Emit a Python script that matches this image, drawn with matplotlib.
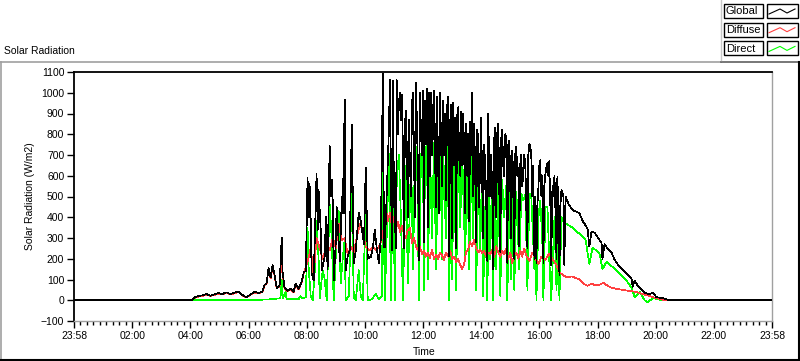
import numpy as np
import matplotlib
matplotlib.use('Agg')
import matplotlib.pyplot as plt
from matplotlib.lines import Line2D
from matplotlib.patches import Rectangle

# time in hours since the axis start (23:58), radiation in W/m2
global_pts = [
    (0, 0), (4.03, 0), (4.17, 15), (4.28, 20), (4.45, 25), (4.55, 30), (4.69, 22), (4.83, 28),
    (4.97, 35), (5.10, 30), (5.24, 38), (5.38, 30), (5.52, 36), (5.66, 42), (5.79, 25), (5.93, 15),
    (6.07, 28), (6.21, 40), (6.34, 35), (6.48, 42), (6.55, 75), (6.62, 80), (6.69, 155), (6.76, 110),
    (6.83, 170), (6.90, 120), (6.97, 60), (7.07, 70), (7.14, 300), (7.17, 140), (7.24, 60), (7.34, 45),
    (7.45, 55), (7.55, 40), (7.62, 80), (7.72, 55), (7.83, 90), (7.90, 135), (7.97, 140), (8.03, 590),
    (8.07, 400), (8.10, 560), (8.14, 380), (8.17, 130), (8.24, 95), (8.34, 610), (8.38, 340), (8.41, 530),
    (8.48, 350), (8.52, 145), (8.62, 210), (8.66, 400), (8.72, 150), (8.79, 745), (8.83, 500), (8.86, 580),
    (8.90, 470), (8.93, 95), (9.00, 275), (9.03, 450), (9.14, 190), (9.21, 500), (9.24, 420), (9.31, 965),
    (9.34, 145), (9.41, 210), (9.48, 240), (9.55, 845), (9.62, 180), (9.69, 240), (9.79, 420), (9.86, 380),
    (9.90, 340), (9.97, 270), (10.03, 640), (10.10, 200), (10.21, 210), (10.28, 255), (10.34, 340),
    (10.41, 250), (10.48, 180), (10.55, 300), (10.62, 1090), (10.66, 255), (10.69, 255), (10.76, 545),
    (10.83, 835), (10.86, 1060), (10.93, 240), (10.97, 1060), (11.00, 500), (11.07, 253), (11.10, 1060),
    (11.14, 800), (11.17, 950), (11.21, 1000), (11.24, 870), (11.28, 990), (11.31, 700), (11.34, 250),
    (11.38, 850), (11.41, 915), (11.45, 700), (11.48, 400), (11.52, 870), (11.55, 650), (11.59, 500),
    (11.62, 950), (11.66, 1000), (11.69, 700), (11.72, 400), (11.76, 1050), (11.79, 850), (11.83, 600),
    (11.86, 195), (11.88, 900), (11.90, 1000), (11.93, 800), (11.97, 700), (12.00, 1010), (12.02, 600),
    (12.03, 280), (12.05, 900), (12.07, 960), (12.10, 750), (12.14, 1020), (12.15, 800), (12.17, 350),
    (12.19, 950), (12.21, 1000), (12.24, 600), (12.26, 950), (12.28, 1000), (12.31, 700), (12.34, 800),
    (12.36, 980), (12.38, 1010), (12.41, 700), (12.45, 450), (12.46, 900), (12.48, 980), (12.52, 650),
    (12.55, 420), (12.57, 950), (12.59, 1000), (12.62, 750), (12.66, 550), (12.67, 920), (12.69, 960),
    (12.72, 700), (12.76, 900), (12.79, 480), (12.83, 930), (12.86, 980), (12.88, 600), (12.90, 210),
    (12.93, 850), (12.97, 940), (13.00, 300), (13.02, 900), (13.03, 950), (13.07, 650), (13.10, 880),
    (13.14, 250), (13.17, 880), (13.21, 930), (13.24, 700), (13.28, 600), (13.31, 910), (13.34, 650),
    (13.38, 900), (13.41, 750), (13.45, 420), (13.48, 850), (13.52, 600), (13.55, 800), (13.59, 380),
    (13.62, 860), (13.66, 700), (13.69, 1000), (13.72, 500), (13.76, 850), (13.79, 650), (13.83, 280),
    (13.86, 820), (13.90, 790), (13.93, 450), (13.97, 700), (14.00, 880), (14.03, 600), (14.07, 300),
    (14.10, 750), (14.14, 650), (14.17, 500), (14.21, 190), (14.24, 900), (14.28, 650), (14.31, 500),
    (14.34, 700), (14.38, 550), (14.41, 150), (14.45, 780), (14.48, 830), (14.52, 400), (14.55, 800),
    (14.59, 850), (14.62, 550), (14.66, 230), (14.69, 780), (14.72, 820), (14.76, 650), (14.79, 600),
    (14.83, 800), (14.86, 790), (14.90, 180), (14.93, 750), (14.97, 770), (15.00, 550), (15.03, 300),
    (15.07, 720), (15.10, 600), (15.14, 200), (15.17, 700), (15.21, 740), (15.24, 600), (15.28, 640),
    (15.31, 260), (15.34, 650), (15.38, 700), (15.41, 550), (15.45, 600), (15.48, 700), (15.52, 650),
    (15.55, 450), (15.59, 250), (15.62, 700), (15.66, 755), (15.69, 740), (15.72, 710), (15.76, 500),
    (15.79, 650), (15.83, 200), (15.86, 500), (15.90, 180), (15.93, 450), (15.97, 550), (16.00, 650),
    (16.03, 675), (16.07, 500), (16.10, 600), (16.14, 180), (16.17, 550), (16.21, 610), (16.24, 640),
    (16.28, 660), (16.31, 600), (16.34, 670), (16.38, 450), (16.41, 170), (16.45, 550), (16.48, 500),
    (16.52, 600), (16.55, 450), (16.59, 200), (16.62, 595), (16.66, 400), (16.69, 120), (16.72, 450),
    (16.76, 530), (16.83, 500), (16.86, 170), (16.90, 500), (17.00, 465), (17.14, 435),
    (17.38, 420), (17.48, 385), (17.66, 345), (17.72, 260), (17.79, 330), (17.90, 325), (18.00, 305),
    (18.14, 275), (18.17, 200), (18.24, 270), (18.34, 250), (18.48, 230), (18.59, 195), (18.76, 160),
    (19.00, 130), (19.17, 105), (19.21, 65), (19.28, 95), (19.38, 70), (19.52, 50), (19.62, 35),
    (19.79, 30), (19.90, 35), (20.03, 15), (20.24, 10), (20.48, 0), (24, 0),
]

diffuse_pts = [
    (0, 0), (4.03, 0), (4.17, 12), (4.28, 18), (4.45, 22), (4.55, 28), (4.69, 20), (4.83, 26),
    (4.97, 32), (5.10, 28), (5.24, 35), (5.38, 28), (5.52, 34), (5.66, 40), (5.79, 22), (5.93, 14),
    (6.07, 26), (6.21, 38), (6.34, 33), (6.48, 40), (6.55, 70), (6.62, 78), (6.69, 150), (6.76, 105),
    (6.83, 160), (6.90, 115), (6.97, 58), (7.07, 68), (7.14, 200), (7.17, 130), (7.24, 55), (7.34, 42),
    (7.45, 52), (7.55, 38), (7.62, 75), (7.72, 52), (7.83, 85), (7.90, 130), (8.03, 185), (8.14, 250),
    (8.24, 120), (8.34, 300), (8.45, 250), (8.55, 200), (8.69, 260), (8.79, 240), (8.90, 300), (9.00, 250),
    (9.10, 370), (9.21, 290), (9.31, 300), (9.41, 220), (9.52, 260), (9.62, 230), (9.72, 300), (9.83, 370),
    (9.93, 330), (10.03, 260), (10.14, 240), (10.28, 255), (10.41, 240), (10.55, 280), (10.66, 350),
    (10.72, 450), (10.79, 380), (10.86, 420), (10.93, 360), (11.00, 400), (11.07, 340), (11.14, 380),
    (11.21, 330), (11.28, 360), (11.34, 320), (11.41, 300), (11.48, 340), (11.55, 350), (11.62, 275),
    (11.69, 300), (11.76, 260), (11.83, 240), (11.90, 255), (11.97, 220), (12.03, 240), (12.10, 210),
    (12.17, 230), (12.24, 205), (12.31, 245), (12.38, 200), (12.45, 220), (12.52, 200), (12.59, 230),
    (12.66, 215), (12.72, 195), (12.79, 230), (12.86, 210), (12.93, 240), (13.00, 200), (13.07, 210),
    (13.14, 185), (13.21, 200), (13.28, 170), (13.34, 150), (13.41, 170), (13.48, 230), (13.55, 245),
    (13.62, 280), (13.69, 260), (13.76, 290), (13.83, 250), (13.90, 230), (13.97, 245), (14.03, 225),
    (14.10, 240), (14.17, 210), (14.24, 230), (14.31, 220), (14.38, 245), (14.45, 210), (14.52, 260),
    (14.59, 230), (14.66, 210), (14.72, 240), (14.79, 220), (14.86, 250), (14.93, 200), (15.00, 230),
    (15.07, 180), (15.14, 220), (15.21, 230), (15.28, 200), (15.34, 240), (15.41, 210), (15.48, 250),
    (15.55, 215), (15.66, 190), (15.76, 230), (15.86, 200), (15.97, 175), (16.07, 210), (16.21, 195),
    (16.34, 225), (16.45, 200), (16.59, 170), (16.69, 135), (16.83, 120), (16.97, 110), (17.10, 115),
    (17.24, 108), (17.38, 100), (17.52, 80), (17.66, 70), (17.79, 80), (17.93, 72), (18.07, 75),
    (18.21, 85), (18.34, 70), (18.48, 60), (18.66, 55), (18.86, 50), (19.10, 45), (19.34, 40),
    (19.55, 30), (19.79, 20), (20.03, 10), (20.31, 0), (24, 0),
]

direct_pts = [
    (0, 0), (6.34, 0), (6.48, 3), (6.83, 5), (7.10, 10), (7.14, 100), (7.17, 10), (7.28, 40), (7.31, 5),
    (7.72, 5), (7.79, 20), (7.86, 10), (7.97, 15), (8.00, 180), (8.03, 350), (8.07, 150), (8.14, 20),
    (8.21, 0), (8.28, 145), (8.34, 385), (8.41, 200), (8.45, 10), (8.55, 145), (8.62, 100), (8.69, 0),
    (8.79, 465), (8.86, 300), (8.93, 0), (9.03, 300), (9.10, 430), (9.17, 80), (9.24, 200), (9.31, 300),
    (9.34, 0), (9.45, 20), (9.55, 520), (9.62, 10), (9.69, 0), (9.79, 145), (9.86, 20), (9.93, 0),
    (10.03, 420), (10.10, 0), (10.24, 5), (10.38, 30), (10.48, 5), (10.59, 20), (10.62, 625), (10.69, 0),
    (10.83, 705), (10.86, 400), (10.90, 0), (10.97, 705), (11.03, 0), (11.10, 600), (11.17, 700),
    (11.24, 400), (11.31, 0), (11.41, 650), (11.48, 80), (11.59, 700), (11.66, 150), (11.72, 720),
    (11.79, 740), (11.86, 0), (11.93, 700), (12.00, 750), (12.03, 50), (12.07, 700), (12.14, 760),
    (12.17, 100), (12.24, 740), (12.31, 300), (12.38, 760), (12.45, 150), (12.52, 740), (12.59, 760),
    (12.66, 200), (12.69, 740), (12.79, 300), (12.86, 750), (12.90, 0), (12.97, 740), (13.00, 100),
    (13.07, 750), (13.14, 50), (13.21, 740), (13.28, 350), (13.34, 745), (13.45, 200), (13.52, 700),
    (13.59, 150), (13.66, 740), (13.72, 300), (13.79, 720), (13.83, 50), (13.90, 600), (13.97, 250),
    (14.03, 640), (14.07, 20), (14.14, 450), (14.21, 0), (14.28, 630), (14.31, 200), (14.38, 620),
    (14.41, 0), (14.48, 580), (14.52, 150), (14.59, 600), (14.66, 20), (14.72, 580), (14.79, 400),
    (14.86, 550), (14.90, 0), (14.97, 540), (15.03, 100), (15.10, 530), (15.14, 50), (15.21, 525),
    (15.31, 150), (15.38, 515), (15.45, 480), (15.52, 510), (15.59, 50), (15.66, 515), (15.72, 510),
    (15.83, 150), (15.86, 400), (15.90, 0), (15.97, 400), (16.03, 480), (16.10, 300), (16.14, 0),
    (16.21, 450), (16.28, 450), (16.34, 200), (16.41, 0), (16.52, 400), (16.59, 50), (16.66, 350),
    (16.69, 0), (16.76, 400), (16.83, 380), (16.90, 370), (17.14, 350), (17.38, 320), (17.59, 290),
    (17.72, 175), (17.83, 255), (18.07, 225), (18.17, 150), (18.31, 185), (18.52, 160), (18.76, 130),
    (19.00, 95), (19.17, 60), (19.28, 15), (19.45, 40), (19.62, 0), (19.72, -10), (19.90, 10),
    (20.24, 0), (24, 0),
]

x_tick_hours = list(range(0, 25, 2))
x_tick_labels = ['23:58', '02:00', '04:00', '06:00', '08:00', '10:00', '12:00',
                 '14:00', '16:00', '18:00', '20:00', '22:00', '23:58']
y_ticks = list(range(-100, 1101, 100))

series = [('Global', global_pts, 'black'),
          ('Diffuse', diffuse_pts, '#ff4040'),
          ('Direct', direct_pts, '#00ff00')]

plt.rcParams['font.family'] = ['Liberation Sans', 'DejaVu Sans']
plt.rcParams['font.size'] = 7.5

W, H = 800, 361
fig = plt.figure(figsize=(W / 100, H / 100), dpi=100)


def fx(px):
    return px / W


def fy(py):
    return 1 - py / H


ax = fig.add_axes([fx(74), fy(321), fx(698), 249 / H])
# global on top, direct underneath
for z, (name, pts, col) in zip([3, 2, 1], series):
    t, v = zip(*pts)
    ax.plot(t, v, color=col, lw=0.5, antialiased=False, zorder=z)

ax.set_xlim(0, 24)
ax.set_ylim(-100, 1100)
ax.set_xticks(x_tick_hours)
ax.set_xticklabels(x_tick_labels)
ax.set_xticks(np.arange(0, 24.01, 2 / 9), minor=True)
ax.set_yticks(y_ticks)
ax.tick_params(axis='both', which='major', direction='out', length=5, width=1, pad=2)
ax.tick_params(axis='x', which='minor', direction='out', length=3, width=1)
for s in ['top', 'left']:
    ax.spines[s].set_color('black')
    ax.spines[s].set_linewidth(1.3)
for s in ['bottom', 'right']:
    ax.spines[s].set_color('#a0a0a0')
    ax.spines[s].set_linewidth(1)

fig.text(fx(30), fy(196), 'Solar Radiation (W/m2)', rotation=90, ha='center', va='center')
fig.text(fx(424), fy(352), 'Time', ha='center', va='center')
fig.text(fx(4), fy(51), 'Solar Radiation', ha='left', va='center')

# panel frame
fig.add_artist(Line2D([0, fx(721)], [fy(61.5)] * 2, color='#a0a0a0', lw=1.2))
fig.add_artist(Line2D([fx(721), 1], [fy(61.5)] * 2, color='#606060', lw=1.2))
fig.add_artist(Line2D([fx(1)] * 2, [0, fy(61.5)], color='#a0a0a0', lw=1.2))
fig.add_artist(Line2D([0, 1], [fy(360)] * 2, color='black', lw=1.5))
fig.add_artist(Line2D([fx(798.5)] * 2, [0, fy(61.5)], color='black', lw=1.5))

# legend
fig.add_artist(Line2D([fx(721)] * 2, [fy(0), fy(60)], color='#c8c8c8', lw=1))
for i, (name, pts, col) in enumerate(series):
    top = 4 + i * 18.7
    fig.add_artist(Rectangle((fx(724), fy(top + 14)), fx(39), 14 / H, fill=False,
                             ec='black', lw=1, transform=fig.transFigure))
    fig.add_artist(Rectangle((fx(767), fy(top + 14)), fx(31), 14 / H, fill=False,
                             ec='black', lw=1, transform=fig.transFigure))
    fig.text(fx(726), fy(top + 7.5), name, ha='left', va='center', fontsize=8)
    zx = [769, 780, 787, 795]
    zy = [top + 10, top + 5, top + 9, top + 5]
    fig.add_artist(Line2D([fx(p) for p in zx], [fy(p) for p in zy], color=col, lw=0.8))

fig.savefig('out.png', dpi=100)
